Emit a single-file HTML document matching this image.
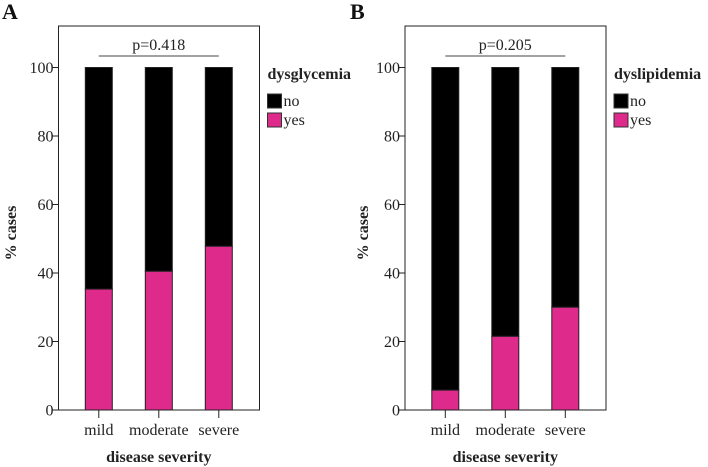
<!DOCTYPE html>
<html><head><meta charset="utf-8">
<style>
body{margin:0;background:#fff;}
svg{display:block;font-family:"Liberation Serif",serif;}
</style></head>
<body>
<svg id="chart" width="708" height="467" viewBox="0 0 708 467" xmlns="http://www.w3.org/2000/svg"></svg>
<script>
const categories = ["mild","moderate","severe"];
const yesA = [35.3, 40.5, 47.8];
const yesB = [5.8, 21.5, 30.0];
const yTicks = [0,20,40,60,80,100];
const pA = "p=0.418";
const pB = "p=0.205";

const svg = document.getElementById('chart');
const NS = "http://www.w3.org/2000/svg";
function mk(tag, attrs, parent){
  const e = document.createElementNS(NS, tag);
  for (const k in attrs) e.setAttribute(k, attrs[k]);
  (parent||svg).appendChild(e);
  return e;
}
function panel(cfg){
  const g = mk('g', {});
  
  
  const x0 = cfg.left, x1 = cfg.left + 201, yTop = 26, y0 = 410, y100 = 67.5;
  const ys = v => y0 - (y0 - y100) * v / 100;
  const xs = i => x0 + 40.3 + i * 60;
  const bw = 27;
  const frame = mk('rect', {x:x0, y:yTop, width:x1-x0, height:y0-yTop, fill:'none', stroke:'#222', 'stroke-width':1}, g);
  
  
  yTicks.forEach(t => {
    const tk = mk('line', {x1:x0-6, x2:x0, y1:ys(t), y2:ys(t), stroke:'#222'}, g);
    
    
    const tl = mk('text', {x:x0-5, y:ys(t)+5.5, 'text-anchor':'end', 'font-size':16, fill:'#222'}, g);
    tl.textContent = t;
    
    
  });
  categories.forEach((c, i) => {
    const v = cfg.yes[i];
    const bn = mk('rect', {x:xs(i)-bw/2, y:ys(100), width:bw, height:ys(v)-ys(100), fill:'#000', stroke:'#222'}, g);
    
    
    const by = mk('rect', {x:xs(i)-bw/2, y:ys(v), width:bw, height:ys(0)-ys(v), fill:'#de2a8a', stroke:'#222'}, g);
    
    
    const tk = mk('line', {x1:xs(i), x2:xs(i), y1:y0, y2:y0+8, stroke:'#222'}, g);
    
    
    const tl = mk('text', {x:xs(i), y:435, 'text-anchor':'middle', 'font-size':16, fill:'#222'}, g);
    tl.textContent = c;
    
    
  });
  const pl = mk('line', {x1:xs(0), x2:xs(2), y1:56, y2:56, stroke:'#444'}, g);
  
  
  const pt = mk('text', {x:(xs(0)+xs(2))/2, y:50, 'text-anchor':'middle', 'font-size':16, fill:'#222'}, g);
  pt.textContent = cfg.p;
  
  
  const xt = mk('text', {x:xs(1), y:462, 'text-anchor':'middle', 'font-size':16, 'font-weight':'bold', fill:'#222'}, g);
  xt.textContent = 'disease severity';
  
  
  const yt = mk('text', {x:0, y:0, 'text-anchor':'middle', 'font-size':16, 'font-weight':'bold', fill:'#222', transform:`translate(${cfg.ylabX},233) rotate(-90)`}, g);
  yt.textContent = '% cases';
  
  
  const lx = x1 + 8;
  const lt = mk('text', {x:lx, y:79, 'font-size':16, 'font-weight':'bold', fill:'#222'}, g);
  lt.textContent = cfg.legend;
  
  
  [['no','#000',94],['yes','#de2a8a',113]].forEach(([lab,col,yy]) => {
    const sw = mk('rect', {x:lx, y:yy, width:14, height:14, fill:col, stroke:'#333'}, g);
    
    
    const tx = mk('text', {x:lx+16, y:yy+12, 'font-size':16, fill:'#222'}, g);
    tx.textContent = lab;
    
    
  });
  const pa = mk('text', {x:cfg.tagX, y:19, 'font-size':22, 'font-weight':'bold', fill:'#111'}, g);
  pa.textContent = cfg.tag;
  
  
}
panel({name:'panel-a', left:58.5, yes:yesA, p:pA, legend:'dysglycemia', tag:'A', tagX:2, ylabX:16});
panel({name:'panel-b', left:405, yes:yesB, p:pB, legend:'dyslipidemia', tag:'B', tagX:350, ylabX:368});
</script>
</body></html>
